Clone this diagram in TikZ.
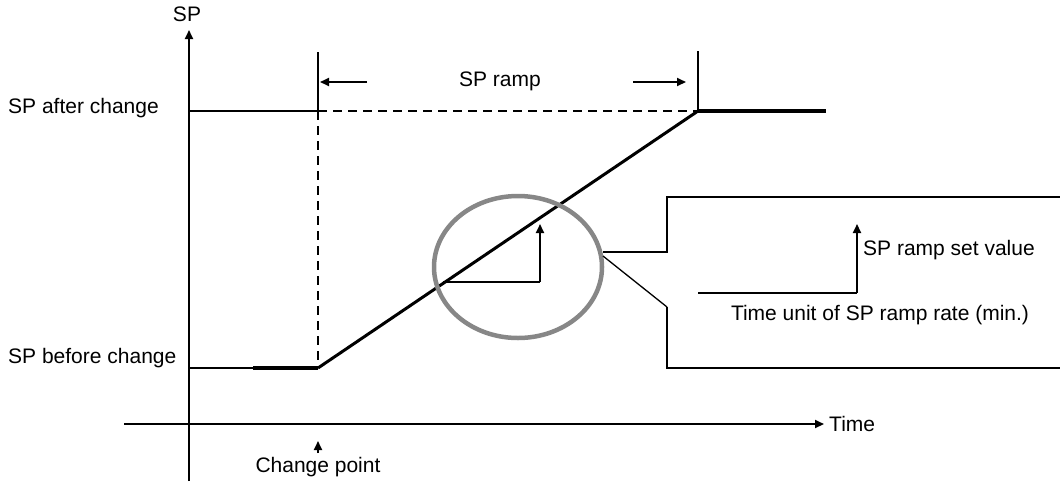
\documentclass[tikz,border=0pt]{standalone}
\usepackage{fontspec}
\setmainfont{Liberation Sans}
\usetikzlibrary{arrows.meta,shapes.geometric}
\begin{document}
\begin{tikzpicture}[x=1pt,y=-1pt,
  lbl/.style={font=\fontsize{21}{25}\selectfont, inner sep=0pt},
  thin/.style={line width=2pt},
  thick/.style={line width=3.8pt},
  tip/.style={-{Triangle[length=9pt,width=8pt]}},
  dsh/.style={line width=2pt, dash pattern=on 9pt off 6pt}]
\useasboundingbox (0,0) rectangle (1060,483);
% key points
\coordinate (O) at (189,424);
\coordinate (ytop) at (189,30);
\coordinate (ybot) at (189,481);
\coordinate (xleft) at (124,424);
\coordinate (xright) at (824,424);
\coordinate (A) at (318,368);   % change point on ramp
\coordinate (B) at (698,111);   % end of ramp
\coordinate (Bl) at (189,111);
\coordinate (Al) at (189,368);
\coordinate (Athick) at (253,368);
\coordinate (Bend) at (826,111);
\coordinate (Atop) at (318,52);
\coordinate (Btop) at (698,51);
\coordinate (Aup) at (318,111);
% axes
\draw[thin,tip] (ybot) -- (ytop);
\draw[thin,tip] (xleft) -- (xright);
\node[lbl] (sp) at (187,14) {SP};
\node[lbl,anchor=west] (time) at (829,424) {Time};
% levels
\draw[thin] (Al) -- (A);
\draw[thick] (Athick) -- (A);
\draw[thin] (Bl) -- (Aup);
\draw[dsh] (Aup) -- (B);
\draw[thick] (B) -- (Bend);
\draw[line width=3pt] (A) -- (B);
% verticals
\draw[thin] (Atop) -- (Aup);
\draw[dsh] (Aup) -- (A);
\draw[thin] (Btop) -- (B);
% SP ramp arrows
\coordinate (la1) at (367,82);
\coordinate (la2) at (320,82);
\coordinate (ra1) at (633,82);
\coordinate (ra2) at (686,82);
\draw[thin,tip] (la1) -- (la2);
\draw[thin,tip] (ra1) -- (ra2);
\node[lbl] (ramp) at (500,81) {SP ramp};
% labels left
\node[lbl,anchor=west] (after) at (8,108) {SP after change};
\node[lbl,anchor=west] (before) at (8,358) {SP before change};
% change point
\coordinate (cpt) at (318,453);
\coordinate (cpt2) at (318,441);
\draw[thin,tip] (cpt) -- (cpt2);
\node[lbl] (cp) at (318,467) {Change point};
% circle
\node[draw=black!47, line width=4.5pt, ellipse, inner sep=0pt, minimum width=168pt, minimum height=142pt] (circ) at (518,267) {};
% slope triangle
\coordinate (t1) at (443,282);
\coordinate (t2) at (540,282);
\coordinate (t3) at (540,224);
\draw[thin] (t1) -- (t2);
\draw[thin,tip] (t2) -- (t3);
% callout
\coordinate (c1) at (603,252);
\coordinate (c2) at (667,252);
\coordinate (c3) at (667,197);
\coordinate (c4) at (1062,197);
\coordinate (d1) at (603,256);
\coordinate (d2) at (667,307);
\coordinate (d3) at (667,368);
\coordinate (d4) at (1062,368);
\draw[thin] (c1) -- (c2) -- (c3) -- (c4);
\draw[line width=1.3pt] (d1) -- (d2);
\draw[thin] (d2) -- (d3) -- (d4);
% inside callout
\coordinate (e1) at (698,293);
\coordinate (e2) at (857,293);
\coordinate (e3) at (857,224);
\draw[thin] (e1) -- (e2);
\draw[thin,tip] (e2) -- (e3);
\node[lbl,anchor=west] (setv) at (863,250) {SP ramp set value};
\node[lbl] (unit) at (880,315) {Time unit of SP ramp rate (min.)};
\end{tikzpicture}
\end{document}
